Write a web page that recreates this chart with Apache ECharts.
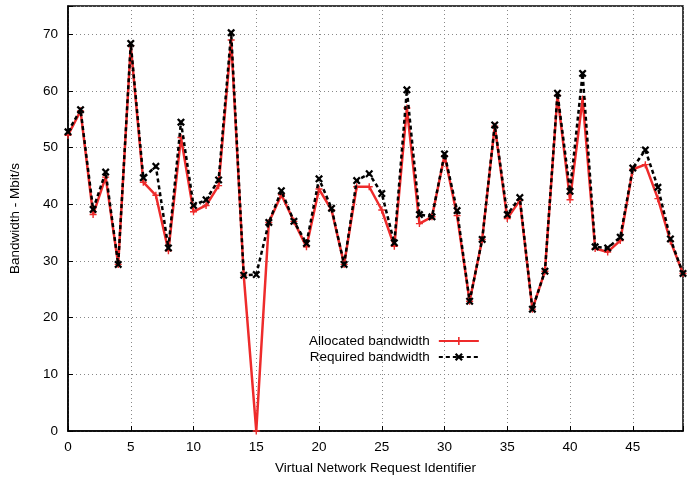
<!DOCTYPE html>
<html><head><meta charset="utf-8">
<script src="https://cdn.jsdelivr.net/npm/echarts@6/dist/echarts.min.js"></script>
<style>html,body{margin:0;padding:0;background:#fff}#c{width:697px;height:480px}</style>
</head><body><div id="c"></div>
<script>
var ids = [];
for (var i = 0; i < 50; i++) ids.push(i);
var allocated = [52.2,56.5,38.2,44.8,29.4,68.0,43.9,41.6,31.8,51.8,
                 38.7,39.8,43.3,69.0,27.5,0,36.8,41.7,37.0,32.5,
                 42.7,39.0,29.4,43.1,43.1,39.0,32.6,57.0,36.6,37.8,
                 48.6,38.0,22.9,33.8,53.8,37.5,40.7,21.5,28.2,59.2,
                 40.8,58.6,32.2,31.6,33.6,46.2,47.0,41.0,33.5,27.8];
var required = [52.8,56.7,39.1,45.7,29.4,68.4,44.7,46.7,32.3,54.5,
                39.8,40.8,44.3,70.3,27.5,27.6,36.8,42.4,37.0,33.1,
                44.5,39.3,29.4,44.2,45.4,41.9,33.2,60.2,38.2,37.8,
                48.9,38.9,22.9,33.8,54.0,38.2,41.2,21.5,28.2,59.6,
                42.3,63.1,32.5,32.3,34.2,46.4,49.6,43.0,33.9,27.8];
var xTicks = [0,5,10,15,20,25,30,35,40,45];
var yTicks = [0,10,20,30,40,50,60,70];

var plusSym = 'path://M4,0 H6 V4 H10 V6 H6 V10 H4 V6 H0 V4 H4 Z';
var crossSym = 'path://M0,2 L2,0 L5,3 L8,0 L10,2 L7,5 L10,8 L8,10 L5,7 L2,10 L0,8 L3,5 Z';
var font = 'Liberation Sans';
var fs = 13.5;
var chart = echarts.init(document.getElementById('c'));
chart.setOption({
  animation: false,
  textStyle: {fontFamily: font},
  grid: {left: 68, right: 14, top: 6, bottom: 47, show: true, borderColor: '#000', borderWidth: 1.5, backgroundColor: 'transparent'},
  legend: {
    left: 309, top: 333, orient: 'vertical', align: 'right', itemGap: 0,
    itemWidth: 40, itemHeight: 10, padding: 0,
    textStyle: {fontFamily: font, fontSize: fs, color: '#000', lineHeight: 16, padding: [0, 4, 0, 0]},
    data: ['Allocated bandwidth', 'Required bandwidth']
  },
  xAxis: {
    type: 'value', min: 0, max: 49, interval: 5,
    name: 'Virtual Network Request Identifier', nameLocation: 'middle', nameGap: 30,
    nameTextStyle: {fontFamily: font, fontSize: fs, color: '#000'},
    axisLine: {show: true, lineStyle: {color: '#000', width: 1.5}},
    axisTick: {show: true, inside: true, length: 5, lineStyle: {color: '#000'}},
    axisLabel: {fontFamily: font, fontSize: fs, color: '#000', margin: 9,
      formatter: function(v){ return xTicks.indexOf(v) >= 0 ? String(v) : ''; }},
    splitLine: {show: true, lineStyle: {color: '#888', type: [1, 3], width: 1}}
  },
  yAxis: {
    type: 'value', min: 0, max: 75, interval: 10,
    name: 'Bandwidth - Mbit/s', nameLocation: 'middle', nameGap: 46,
    nameTextStyle: {fontFamily: font, fontSize: fs, color: '#000'},
    axisLine: {show: true, lineStyle: {color: '#000', width: 1.5}},
    axisTick: {show: true, inside: true, length: 5, lineStyle: {color: '#000'}},
    axisLabel: {fontFamily: font, fontSize: fs, color: '#000', margin: 10,
      formatter: function(v){ return yTicks.indexOf(v) >= 0 ? String(v) : ''; }},
    splitLine: {show: true, lineStyle: {color: '#888', type: [1, 3], width: 1}}
  },
  series: [
    {
      name: 'Allocated bandwidth', type: 'line',
      data: ids.map(function(x, k){ return [x, allocated[k]]; }),
      symbol: plusSym, symbolSize: 7, showAllSymbol: true,
      lineStyle: {color: '#ee2b2b', width: 2.5},
      itemStyle: {color: '#ee2b2b'}, z: 2
    },
    {
      name: 'Required bandwidth', type: 'line',
      data: ids.map(function(x, k){ return [x, required[k]]; }),
      symbol: crossSym, symbolSize: 8, showAllSymbol: true,
      lineStyle: {color: '#000', width: 2.5, type: [4, 3]},
      itemStyle: {color: '#000'}, z: 3
    }
  ]
});
</script></body></html>
